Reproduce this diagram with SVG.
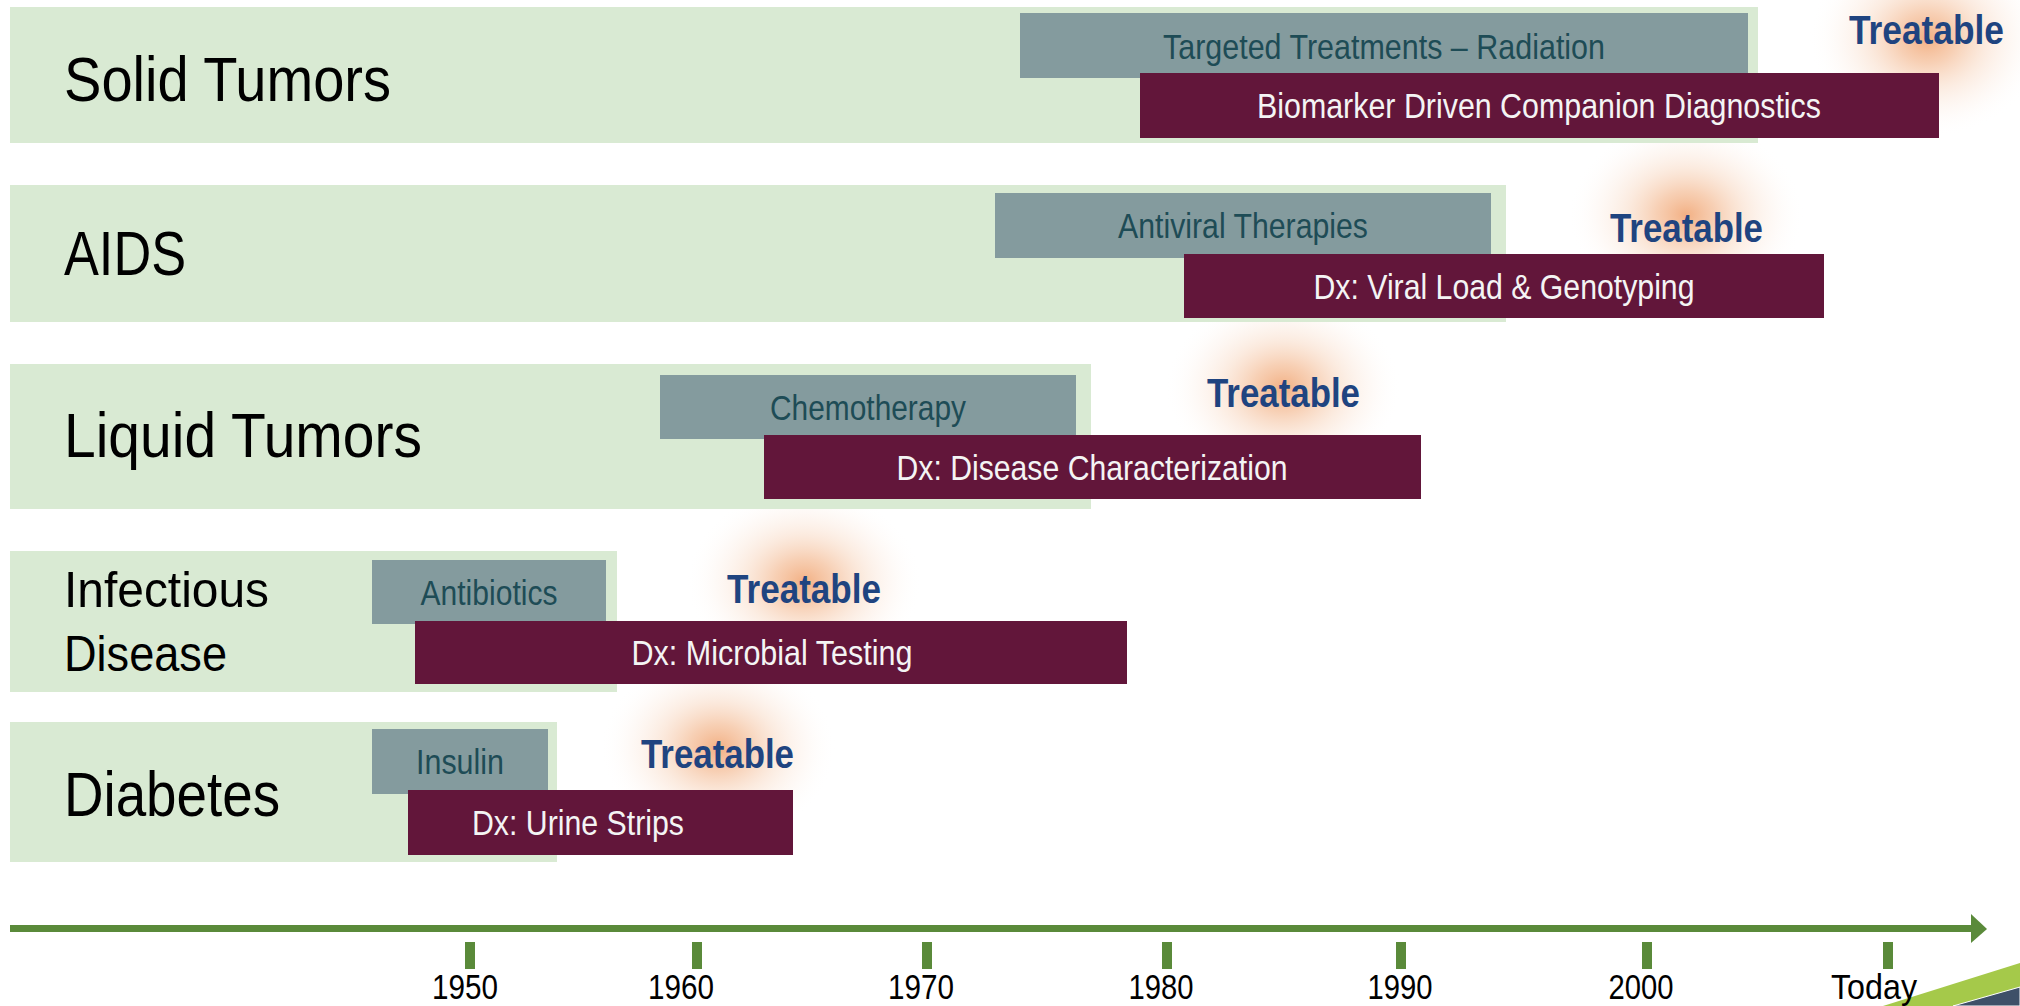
<svg xmlns="http://www.w3.org/2000/svg" width="2020" height="1006" viewBox="0 0 2020 1006">
<defs>
<radialGradient id="glow" cx="0.5" cy="0.5" r="0.5">
<stop offset="0" stop-color="#F0A26E" stop-opacity="0.85"/>
<stop offset="0.25" stop-color="#F3B68C" stop-opacity="0.65"/>
<stop offset="0.5" stop-color="#F7D2B8" stop-opacity="0.45"/>
<stop offset="0.75" stop-color="#FBE9DD" stop-opacity="0.25"/>
<stop offset="1" stop-color="#FFFFFF" stop-opacity="0"/>
</radialGradient>
<style>
.band{fill:#D9EAD3}
.tx{fill:#849B9E}
.dx{fill:#62163A}
.lbl{font-family:"Liberation Sans Narrow","Liberation Sans",Arial,sans-serif;fill:#000000}
.big{font-size:63px}
.mid{font-size:50px}
.txt{font-family:"Liberation Sans Narrow","Liberation Sans",Arial,sans-serif;font-size:35px;fill:#1E4C56;text-anchor:middle}
.dxt{font-family:"Liberation Sans Narrow","Liberation Sans",Arial,sans-serif;font-size:35px;fill:#F4F4F4;text-anchor:middle}
.trt{font-family:"Liberation Sans Narrow","Liberation Sans",Arial,sans-serif;font-size:41px;font-weight:bold;fill:#1F4480}
.yr{font-family:"Liberation Sans Narrow","Liberation Sans",Arial,sans-serif;font-size:35px;fill:#000000;text-anchor:middle}
.tick{fill:#5A8A3A}
.gl{fill:url(#glow)}
</style>
</defs>
<rect x="0" y="0" width="2020" height="1006" fill="#FFFFFF"/>

<g id="glows">
<ellipse class="gl" cx="1927" cy="38" rx="118" ry="100"/>
<ellipse class="gl" cx="1686" cy="215" rx="118" ry="95"/>
<ellipse class="gl" cx="1283" cy="388" rx="118" ry="95"/>
<ellipse class="gl" cx="804" cy="582" rx="118" ry="95"/>
<ellipse class="gl" cx="718" cy="748" rx="118" ry="95"/>
</g>

<g id="solid-tumors">
<rect class="band" x="10" y="7" width="1748" height="136"/>
<text class="lbl big" x="64" y="101" textLength="327" lengthAdjust="spacingAndGlyphs">Solid Tumors</text>
<rect class="tx" x="1020" y="13" width="728" height="65"/>
<text class="txt" x="1384" y="59" textLength="442" lengthAdjust="spacingAndGlyphs">Targeted Treatments – Radiation</text>
<rect class="dx" x="1140" y="73" width="799" height="65"/>
<text class="dxt" x="1539" y="118" textLength="564" lengthAdjust="spacingAndGlyphs">Biomarker Driven Companion Diagnostics</text>
<text class="trt" x="1849" y="44" textLength="155" lengthAdjust="spacingAndGlyphs">Treatable</text>
</g>

<g id="aids">
<rect class="band" x="10" y="185" width="1496" height="137"/>
<text class="lbl big" x="64" y="275" textLength="122" lengthAdjust="spacingAndGlyphs">AIDS</text>
<rect class="tx" x="995" y="193" width="496" height="65"/>
<text class="txt" x="1243" y="238" textLength="250" lengthAdjust="spacingAndGlyphs">Antiviral Therapies</text>
<rect class="dx" x="1184" y="254" width="640" height="64"/>
<text class="dxt" x="1504" y="299" textLength="381" lengthAdjust="spacingAndGlyphs">Dx: Viral Load &amp; Genotyping</text>
<text class="trt" x="1610" y="242" textLength="153" lengthAdjust="spacingAndGlyphs">Treatable</text>
</g>

<g id="liquid-tumors">
<rect class="band" x="10" y="364" width="1081" height="145"/>
<text class="lbl big" x="64" y="457" textLength="358" lengthAdjust="spacingAndGlyphs">Liquid Tumors</text>
<rect class="tx" x="660" y="375" width="416" height="64"/>
<text class="txt" x="868" y="420" textLength="196" lengthAdjust="spacingAndGlyphs">Chemotherapy</text>
<rect class="dx" x="764" y="435" width="657" height="64"/>
<text class="dxt" x="1092" y="480" textLength="391" lengthAdjust="spacingAndGlyphs">Dx: Disease Characterization</text>
<text class="trt" x="1207" y="407" textLength="153" lengthAdjust="spacingAndGlyphs">Treatable</text>
</g>

<g id="infectious-disease">
<rect class="band" x="10" y="551" width="607" height="141"/>
<text class="lbl mid" x="64" y="607" textLength="205" lengthAdjust="spacingAndGlyphs">Infectious</text>
<text class="lbl mid" x="64" y="671" textLength="163" lengthAdjust="spacingAndGlyphs">Disease</text>
<rect class="tx" x="372" y="560" width="234" height="64"/>
<text class="txt" x="489" y="605" textLength="137" lengthAdjust="spacingAndGlyphs">Antibiotics</text>
<rect class="dx" x="415" y="621" width="712" height="63"/>
<text class="dxt" x="772" y="665" textLength="281" lengthAdjust="spacingAndGlyphs">Dx: Microbial Testing</text>
<text class="trt" x="727" y="603" textLength="154" lengthAdjust="spacingAndGlyphs">Treatable</text>
</g>

<g id="diabetes">
<rect class="band" x="10" y="722" width="547" height="140"/>
<text class="lbl big" x="64" y="816" textLength="216" lengthAdjust="spacingAndGlyphs">Diabetes</text>
<rect class="tx" x="372" y="729" width="176" height="65"/>
<text class="txt" x="460" y="774" textLength="88" lengthAdjust="spacingAndGlyphs">Insulin</text>
<rect class="dx" x="408" y="790" width="385" height="65"/>
<text class="dxt" x="578" y="835" textLength="212" lengthAdjust="spacingAndGlyphs">Dx: Urine Strips</text>
<text class="trt" x="641" y="768" textLength="153" lengthAdjust="spacingAndGlyphs">Treatable</text>
</g>

<g id="corner">
<polygon points="1883,1006 2020,963 2020,1006" fill="#A5C94A"/>
<polygon points="1953,1006 2020,987 2020,1006" fill="#3E5068" stroke="#FFFFFF" stroke-width="1"/>
</g>

<g id="connectors">
<rect x="10" y="925" width="1963" height="7" fill="#5A8A3A"/>
<polygon points="1971,914 1987,929 1971,943" fill="#5A8A3A"/>
</g>

<g id="axis-ticks">
<rect class="tick" x="465" y="942" width="10" height="27"/>
<rect class="tick" x="692" y="942" width="10" height="27"/>
<rect class="tick" x="922" y="942" width="10" height="27"/>
<rect class="tick" x="1162" y="942" width="10" height="27"/>
<rect class="tick" x="1396" y="942" width="10" height="27"/>
<rect class="tick" x="1642" y="942" width="10" height="27"/>
<rect class="tick" x="1883" y="942" width="10" height="27"/>
<text class="yr" x="465" y="999" textLength="66" lengthAdjust="spacingAndGlyphs">1950</text>
<text class="yr" x="681" y="999" textLength="66" lengthAdjust="spacingAndGlyphs">1960</text>
<text class="yr" x="921" y="999" textLength="66" lengthAdjust="spacingAndGlyphs">1970</text>
<text class="yr" x="1161" y="999" textLength="65" lengthAdjust="spacingAndGlyphs">1980</text>
<text class="yr" x="1400" y="999" textLength="65" lengthAdjust="spacingAndGlyphs">1990</text>
<text class="yr" x="1641" y="999" textLength="65" lengthAdjust="spacingAndGlyphs">2000</text>
<text class="yr" x="1874" y="999" textLength="86" lengthAdjust="spacingAndGlyphs">Today</text>
</g>
</svg>
